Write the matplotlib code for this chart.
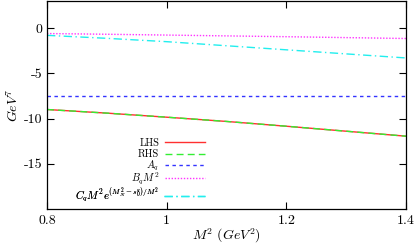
import numpy as np
from matplotlib import pyplot as plt

# values (x = M^2 in GeV^2)
m2 = [0.8, 0.9, 1.0, 1.1, 1.2, 1.3, 1.4]
lhs = [-9.0, -9.4, -9.85, -10.32, -10.85, -11.4, -11.95]
rhs = [-9.0, -9.4, -9.85, -10.32, -10.85, -11.4, -11.95]
a_q = [-7.48, -7.48, -7.48, -7.48, -7.48, -7.48, -7.48]
b_q = [-0.6, -0.68, -0.77, -0.86, -0.95, -1.05, -1.15]
c_q = [-0.8, -1.13, -1.5, -1.95, -2.4, -2.85, -3.3]

xticks = [0.8, 1.0, 1.2, 1.4]
xtick_labels = ['0.8', '1', '1.2', '1.4']
yticks = [0, -5, -10, -15]
ytick_labels = ['0', '-5', '-10', '-15']

plt.rcParams['font.family'] = 'serif'
plt.rcParams['font.serif'] = ['cmr10', 'DejaVu Serif']
plt.rcParams['mathtext.fontset'] = 'cm'
plt.rcParams['axes.unicode_minus'] = False

fig = plt.figure(figsize=(4.15, 2.45), dpi=100)
ax = fig.add_axes([0.1133, 0.147, 0.865, 0.849])

lines = []
lines += ax.plot(m2, lhs, color='#ff3030', lw=1.0, label='LHS')
lines += ax.plot(m2, rhs, color='#33ee33', lw=1.0, dashes=(5, 3), label='RHS')
lines += ax.plot(m2, a_q, color='#3333ff', lw=1.0, dashes=(2.5, 2.5), label='$A_q$')
lines += ax.plot(m2, b_q, color='#ff33ff', lw=1.0, dashes=(1, 1.2), label='$B_qM^2$')
lines += ax.plot(m2, c_q, color='#22eeee', lw=1.0, dashes=(6, 2.5, 1, 2.5),
                 label='$C_qM^2e^{(M_N^2-s_0^q)/M^2}$')

ax.set_xlim(0.8, 1.4)
ax.set_ylim(-20, 3)
ax.set_xticks(xticks)
ax.set_xticklabels(xtick_labels)
ax.set_yticks(yticks)
ax.set_yticklabels(ytick_labels)
ax.tick_params(direction='in', top=True, right=True, length=5, width=0.8, labelsize=10)
ax.tick_params(axis='x', pad=4)
ax.tick_params(axis='y', pad=3.5)
for s in ax.spines.values():
    s.set_linewidth(0.9)

ax.set_xlabel('$M^2\\ (GeV^2)$', fontsize=10, labelpad=0)
ax.set_ylabel('$GeV^7$', fontsize=10, labelpad=2)

# gnuplot-style key: one row per entry (last row a bit lower, its label is tall)
key_rows = [0.316, 0.262, 0.207, 0.148, 0.064]
for i, ln in enumerate(lines):
    fs = 7.8 if i == len(lines) - 1 else 7.5
    leg = ax.legend(handles=[ln], loc='center right',
                    bbox_to_anchor=(0.455, key_rows[i]), frameon=False,
                    markerfirst=False, handlelength=3.9 * 7.5 / fs,
                    handletextpad=0.5 * 7.5 / fs, borderpad=0, prop={'size': fs})
    ax.add_artist(leg)

fig.savefig('out.png', dpi=100)
